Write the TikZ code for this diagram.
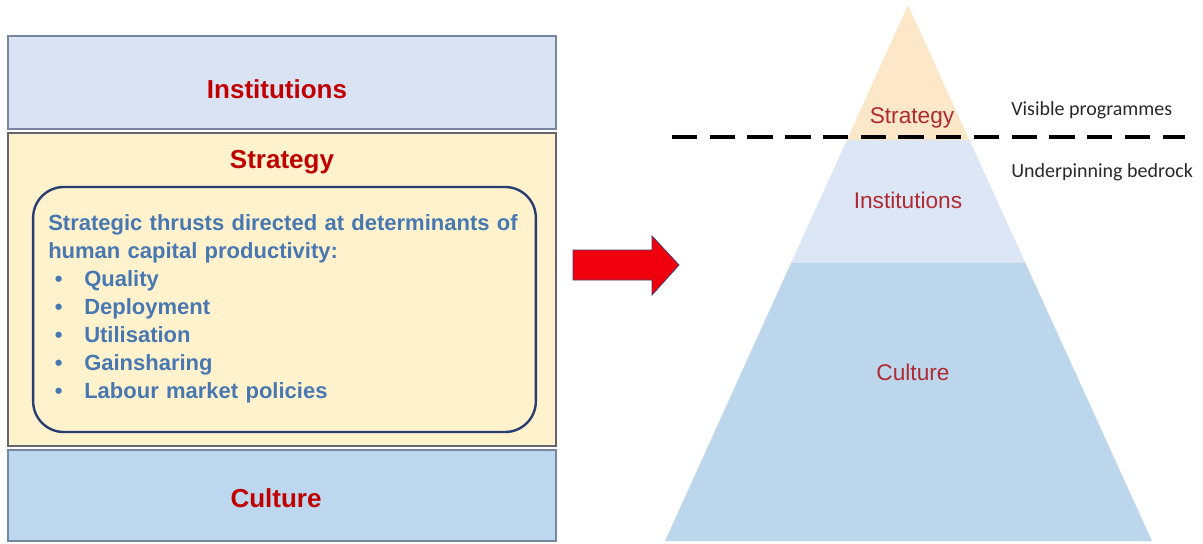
\documentclass[tikz,border=0pt]{standalone}
\usepackage{fontspec}
\setmainfont{Liberation Sans}
\newfontfamily\calibrifont{Carlito}
\usepackage{xcolor}
\definecolor{titlered}{RGB}{192,0,0}
\definecolor{thrustblue}{RGB}{72,120,178}
\definecolor{framenavy}{RGB}{40,62,112}
\definecolor{instfill}{RGB}{218,227,243}
\definecolor{stratfill}{RGB}{255,242,204}
\definecolor{cultfill}{RGB}{189,215,238}
\definecolor{boxedge}{RGB}{118,133,160}
\definecolor{stratedge}{RGB}{100,102,110}
\definecolor{peak}{RGB}{252,232,200}
\definecolor{middle}{RGB}{220,230,244}
\definecolor{bedrock}{RGB}{188,214,236}
\definecolor{pyrred}{RGB}{176,42,52}
\definecolor{notegray}{RGB}{40,40,40}
\definecolor{arrowred}{RGB}{240,0,12}
\definecolor{arrowedge}{RGB}{70,60,110}
\usepackage{tikz}
\usetikzlibrary{calc}

\newcommand{\thrustitem}[1]{\hspace*{5pt}\makebox[22pt][l]{\textbullet}#1}

\begin{document}
\begin{tikzpicture}[x=0.75pt, y=-0.75pt,
        layer/.style={rectangle, draw=boxedge, line width=1pt, minimum width=411pt, inner sep=0pt},
        title/.style={anchor=base, text=titlered, font=\fontsize{19.5}{23}\selectfont\bfseries, inner sep=0pt},
        frame/.style={rectangle, rounded corners=23pt, draw=framenavy, line width=1.8pt, minimum width=377pt, minimum height=183.75pt},
        thrust/.style={anchor=north west, align=left, text width=380pt, inner sep=0pt, text=thrustblue, font=\fontsize{16.5}{21}\selectfont\bfseries},
        tier/.style={anchor=base, text=pyrred, font=\fontsize{17}{20}\selectfont, inner sep=0pt},
        note/.style={anchor=base west, text=notegray, font=\calibrifont\fontsize{15}{18}\selectfont, inner sep=0pt},
        waterline/.style={line width=2.6pt, black, dash pattern=on 19pt off 9.3pt},
        blockarrow/.style={fill=arrowred, draw=arrowedge, line width=0.6pt, line join=miter}
    ]
        \useasboundingbox (0,0) rectangle (1203,543);

        \node[layer, fill=instfill, minimum height=69.75pt] (instbox) at (282,82.5) {};
        \node[layer, fill=stratfill, draw=stratedge, minimum height=234.75pt] (stratbox) at (282,289.5) {};
        \node[layer, fill=cultfill, minimum height=68.25pt] (cultbox) at (282,495.5) {};

        \node[title] (insttitle) at (277,98) {Institutions};
        \node[title] (strattitle) at (282,168) {Strategy};
        \node[title] (culttitle) at (276,507) {Culture};

        \node[frame] (thrustframe) at (284.5,309.5) {};
        \node[thrust] (thrusts) at (48,214) {Strategic thrusts directed at determinants of\\
            human capital productivity:\\
            \thrustitem{Quality}\\
            \thrustitem{Deployment}\\
            \thrustitem{Utilisation}\\
            \thrustitem{Gainsharing}\\
            \thrustitem{Labour market policies}};

        \draw[blockarrow] (573,250) -- (652,250) -- (652,236) -- (679,265) -- (652,295) -- (652,280) -- (573,280) -- cycle;

        \coordinate (apex) at (908,5);
        \coordinate (baseL) at (665,541);
        \coordinate (baseR) at (1152,541);
        \coordinate (waterSL) at ($(apex)!0.2519!(baseL)$);
        \coordinate (waterSR) at ($(apex)!0.2519!(baseR)$);
        \coordinate (rockSL) at ($(apex)!0.4813!(baseL)$);
        \coordinate (rockSR) at ($(apex)!0.4813!(baseR)$);

        \fill[peak] (apex) -- (waterSR) -- (waterSL) -- cycle;
        \fill[middle] (waterSL) -- (waterSR) -- (rockSR) -- (rockSL) -- cycle;
        \fill[bedrock] (rockSL) -- (rockSR) -- (baseR) -- (baseL) -- cycle;

        \node[tier] (peaklabel) at (912,123) {Strategy};
        \node[tier] (middlelabel) at (908,208) {Institutions};
        \node[tier] (rocklabel) at (913,380) {Culture};

        \coordinate (waterL) at (672,137);
        \coordinate (waterR) at (1185,137);
        \draw[waterline] (waterL) -- (waterR);

        \node[note] (visible) at (1011,115) {Visible programmes};
        \node[note] (underpin) at (1011,177) {Underpinning bedrock};
    \end{tikzpicture}
\end{document}
